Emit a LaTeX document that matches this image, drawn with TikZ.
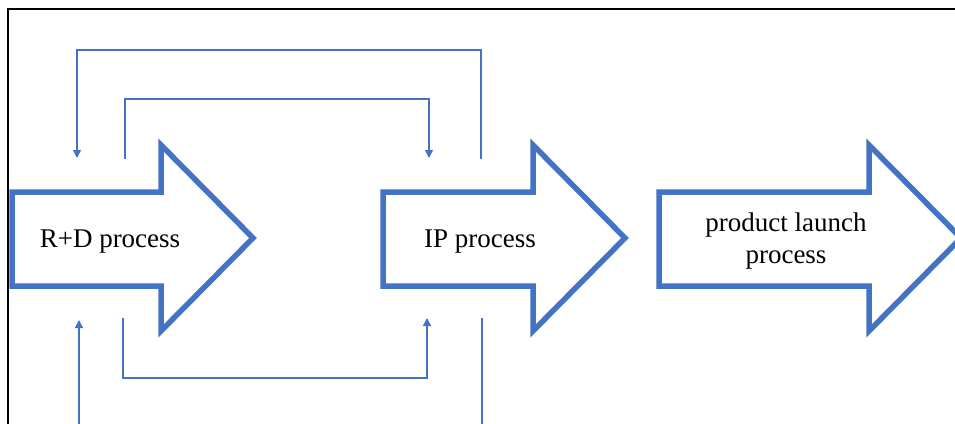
\documentclass[tikz,border=0pt]{standalone}
\usepackage{fontspec}
\setmainfont{Liberation Serif}
\usetikzlibrary{arrows.meta}
\definecolor{flowblue}{HTML}{4472C4}
\begin{document}
\begin{tikzpicture}[x=1pt,y=-1pt,
  bigarrow/.style={draw=flowblue,line width=5.5pt,fill=white,line join=miter,miter limit=10},
  loopline/.style={draw=flowblue,line width=1.3pt},
  loopend/.style={loopline,-{Triangle[length=8pt,width=8pt]}},
  steplabel/.style={font=\fontsize{27}{32}\selectfont,align=center,inner sep=0pt}]
\useasboundingbox (0,0) rectangle (955,423);
\clip (0,0) rectangle (955,423);

% process arrows
\draw[bigarrow] (12,192) -- (161,192) -- (161,145) -- (253,238) -- (161,331) -- (161,286) -- (12,286) -- cycle;
\draw[bigarrow] (383,192) -- (533,192) -- (533,145) -- (625,238) -- (533,331) -- (533,286) -- (383,286) -- cycle;
\draw[bigarrow] (659,192) -- (869,192) -- (869,145) -- (961,238) -- (869,331) -- (869,286) -- (659,286) -- cycle;

\node[steplabel] (rd) at (110,242) {R+D process};
\node[steplabel] (ip) at (480,242) {IP process};
\node[steplabel] (launch) at (786,241) {product launch\\process};

% feedback loop end points
\coordinate (rdInTop) at (77,158);
\coordinate (rdOutTop) at (125,159);
\coordinate (ipInTop) at (429,158);
\coordinate (ipOutTop) at (481,159);
\coordinate (rdInBot) at (79,320);
\coordinate (rdOutBot) at (123,318);
\coordinate (ipInBot) at (427,318);
\coordinate (ipOutBot) at (482,318);

\draw[loopend] (ipOutTop) -- ++(0,-109) -| (rdInTop);
\draw[loopend] (rdOutTop) -- ++(0,-60) -| (ipInTop);
\draw[loopend] (rdOutBot) -- ++(0,60) -| (ipInBot);
\draw[loopend] (ipOutBot) -- ++(0,130) -| (rdInBot);

% frame
\draw[line width=2pt,line cap=rect] (8,430) -- (8,9) -- (960,9);
\end{tikzpicture}
\end{document}
